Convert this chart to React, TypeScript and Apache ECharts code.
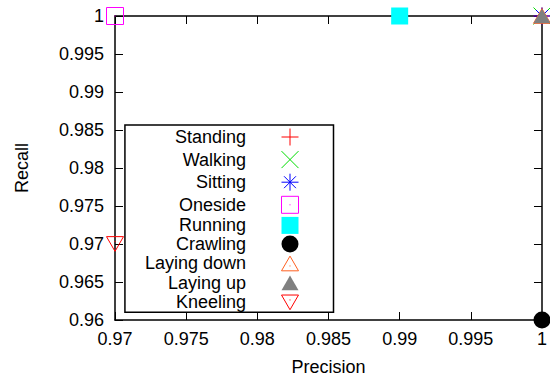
import React, { useEffect, useRef } from "react";
import * as echarts from "echarts";

const categories = ["Standing", "Walking", "Sitting", "Oneside", "Running", "Crawling", "Laying down", "Laying up", "Kneeling"];
const precision = [1, 1, 1, 0.97, 0.99, 1, 1, 1, 0.97];
const recall = [1, 1, 1, 1, 1, 0.96, 1, 1, 0.97];
const colors = ["#ff0000", "#00dd00", "#0000ff", "#ff00ff", "#00ffff", "#000000", "#ff6020", "#808080", "#ff0000"];
const filled = [false, false, false, false, true, true, false, true, false];
const symbols = [
  "path://M0,5L10,5M5,0L5,10",
  "path://M0,0L10,10M0,10L10,0",
  "path://M0,5L10,5M5,0L5,10M1.5,1.5L8.5,8.5M1.5,8.5L8.5,1.5",
  "path://M0,0L10,0L10,10L0,10ZM4.7,5L5.3,5",
  "path://M0,0L10,0L10,10L0,10Z",
  "path://M0,5A5,5,0,1,1,10,5A5,5,0,1,1,0,5Z",
  "path://M0,8.66L5,0L10,8.66ZM4.7,5.8L5.3,5.8",
  "path://M0,8.66L5,0L10,8.66Z",
  "path://M0,0L10,0L5,8.66ZM4.7,2.9L5.3,2.9",
];
const xTicks = { min: 0.97, max: 1, interval: 0.005 };
const yTicks = { min: 0.96, max: 1, interval: 0.005 };

const FONT = "Liberation Sans, Arial, sans-serif";

const fmt = (v: number) => String(parseFloat(v.toFixed(3)));

export default function App() {
  const ref = useRef<HTMLDivElement>(null);
  useEffect(() => {
    document.body.style.margin = "0";
    const chart = echarts.init(ref.current!, null, { renderer: "svg" });
    const axisCommon = {
      type: "value",
      splitLine: { show: false },
      axisLine: { show: true, lineStyle: { color: "#000", width: 1.5 } },
      axisTick: { show: true, inside: true, length: 8, lineStyle: { color: "#000", width: 1 } },
    };
    chart.setOption({
      animation: false,
      textStyle: { fontFamily: FONT },
      grid: { left: 115, right: 8, top: 16, bottom: 59 },
      xAxis: [
        {
          ...axisCommon,
          ...xTicks,
          position: "bottom",
          axisLabel: { fontSize: 18, color: "#000", margin: 10, formatter: fmt, fontFamily: FONT },
          name: "Precision",
          nameLocation: "middle",
          nameGap: 38,
          nameTextStyle: { fontSize: 18, color: "#000", fontFamily: FONT },
        },
        {
          ...axisCommon,
          ...xTicks,
          position: "top",
          axisLabel: { show: false },
        },
      ],
      yAxis: [
        {
          ...axisCommon,
          ...yTicks,
          position: "left",
          axisLabel: { fontSize: 18, color: "#000", margin: 11, formatter: fmt, fontFamily: FONT },
          name: "Recall",
          nameLocation: "middle",
          nameGap: 84,
          nameTextStyle: { fontSize: 18, color: "#000", fontFamily: FONT },
        },
        {
          ...axisCommon,
          ...yTicks,
          position: "right",
          axisLabel: { show: false },
        },
      ],
      legend: {
        orient: "vertical",
        right: 216.5,
        top: 125,
        align: "right",
        itemWidth: 17,
        itemHeight: 17,
        itemGap: 0.6,
        padding: [1, 32.5, 0, 20],
        borderColor: "#000",
        borderWidth: 1.5,
        selectedMode: false,
        itemStyle: { borderWidth: 1, opacity: 1 },
        textStyle: { fontSize: 18, color: "#000", fontFamily: FONT, padding: [0, 30.5, 0, 0] },
        data: categories,
      },
      series: categories.map((name, i) => ({
        name,
        type: "scatter",
        xAxisIndex: 0,
        yAxisIndex: 0,
        clip: false,
        symbol: symbols[i],
        symbolSize: 17,
        symbolKeepAspect: true,
        itemStyle: filled[i]
          ? { color: colors[i], borderWidth: 0, opacity: 1 }
          : { color: "none", borderColor: colors[i], borderWidth: 1, opacity: 1 },
        emphasis: { disabled: true },
        data: [[precision[i], recall[i]]],
      })),
    });
    return () => chart.dispose();
  }, []);
  return <div ref={ref} style={{ width: 550, height: 381 }} />;
}
